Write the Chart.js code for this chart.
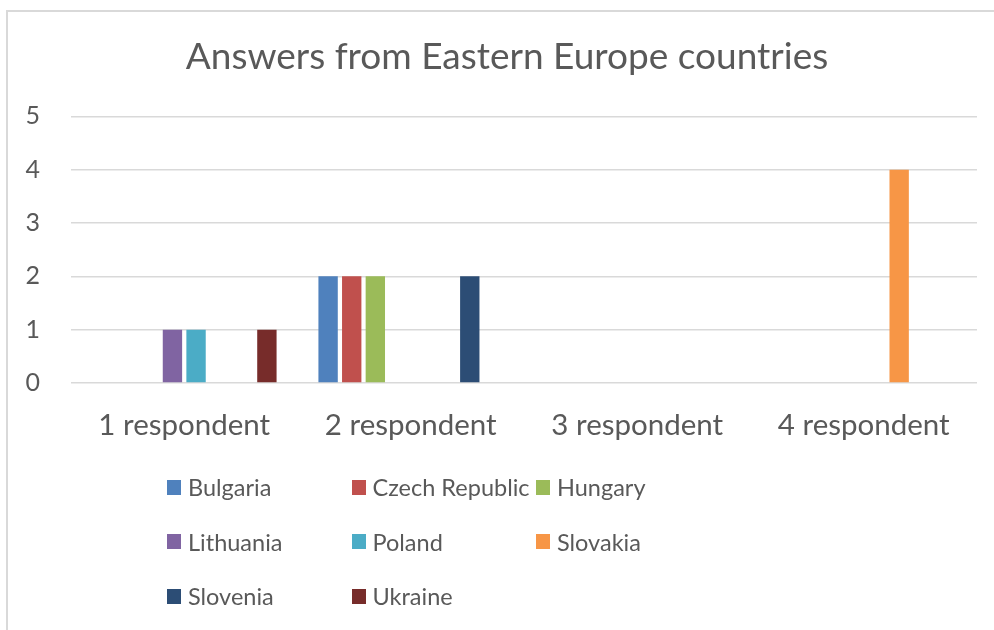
<!DOCTYPE html>
<html>
<head>
<meta charset="utf-8">
<script src="https://cdn.jsdelivr.net/npm/chart.js@4.4.1/dist/chart.umd.min.js"></script>
<style>
  html, body { margin: 0; padding: 0; background: #fff; }
  #wrap { position: relative; width: 994px; height: 630px; overflow: hidden; }
  #frame { position: absolute; left: 6px; top: 10px; width: 1000px; height: 700px; border: 2px solid #d9d9d9; box-sizing: border-box; }
  canvas { position: absolute; left: 0; top: 0; }
  #legend { position: absolute; left: 0; top: 0; width: 994px; height: 630px; pointer-events: none; font-family: Lato, "Open Sans", sans-serif; font-size: 23.5px; color: #595959; }
  .item { position: absolute; display: flex; align-items: center; height: 30px; white-space: nowrap; }
  .sw { width: 14px; height: 15px; margin-right: 7px; }
</style>
</head>
<body>
<div id="wrap">
  <div id="frame"></div>
  <canvas id="c" width="994" height="630"></canvas>
  <div id="legend"></div>
</div>
<script>
const title = "Answers from Eastern Europe countries";
const categories = ["1 respondent", "2 respondent", "3 respondent", "4 respondent"];
const seriesNames = ["Bulgaria", "Czech Republic", "Hungary", "Lithuania", "Poland", "Slovakia", "Slovenia", "Ukraine"];
const colors = ["#4F81BD", "#C0504D", "#9BBB59", "#8064A2", "#4BACC6", "#F79646", "#2C4D75", "#772C2A"];
const bulgaria = [0, 2, 0, 0];
const czechRepublic = [0, 2, 0, 0];
const hungary = [0, 2, 0, 0];
const lithuania = [1, 0, 0, 0];
const poland = [1, 0, 0, 0];
const slovakia = [0, 0, 0, 4];
const slovenia = [0, 2, 0, 0];
const ukraine = [1, 0, 0, 0];
const yTicks = [0, 1, 2, 3, 4, 5];

const seriesValues = [bulgaria, czechRepublic, hungary, lithuania, poland, slovakia, slovenia, ukraine];
const FONT = 'Lato, "Open Sans", sans-serif';

const datasets = seriesNames.map((n, i) => ({
  label: n,
  data: seriesValues[i],
  backgroundColor: colors[i],
  borderWidth: 0,
  categoryPercentage: 0.834,
  barPercentage: 0.82
}));

new Chart(document.getElementById('c'), {
  type: 'bar',
  data: { labels: categories, datasets },
  options: {
    responsive: false,
    animation: false,
    layout: { padding: { left: 22, right: 2, top: 0, bottom: 187 } },
    plugins: {
      legend: { display: false },
      tooltip: { enabled: false },
      title: {
        display: true,
        text: title,
        color: '#595959',
        font: { family: FONT, size: 37, weight: 'normal' },
        padding: { top: 35, bottom: 37 }
      }
    },
    scales: {
      x: {
        grid: { display: false, drawTicks: false },
        border: { display: false },
        ticks: { color: '#595959', font: { family: FONT, size: 29.5 }, padding: 25, maxRotation: 0 },
        afterFit: (s) => { s.height = 60; }
      },
      y: {
        min: 0, max: 5,
        afterBuildTicks: (s) => { s.ticks = yTicks.map(v => ({ value: v })); },
        grid: { color: '#d9d9d9', lineWidth: 1.5, drawTicks: false },
        border: { display: false },
        ticks: { color: '#595959', font: { family: FONT, size: 25 }, padding: 31 },
        afterFit: (s) => { s.width = 49; }
      },
      yRight: {
        position: 'right',
        display: true,
        grid: { display: false, drawTicks: false },
        border: { display: false },
        ticks: { display: false },
        afterFit: (s) => { s.width = 15; }
      }
    }
  }
});

const legend = document.getElementById('legend');
seriesNames.forEach((n, i) => {
  const col = i % 3, row = Math.floor(i / 3);
  const d = document.createElement('div');
  d.className = 'item';
  d.style.left = (167 + col * 184.5) + 'px';
  d.style.top = (472 + row * 54.5) + 'px';
  d.innerHTML = '<div class="sw" style="background:' + colors[i] + '"></div><span>' + n + '</span>';
  legend.appendChild(d);
});
</script>
</body>
</html>
